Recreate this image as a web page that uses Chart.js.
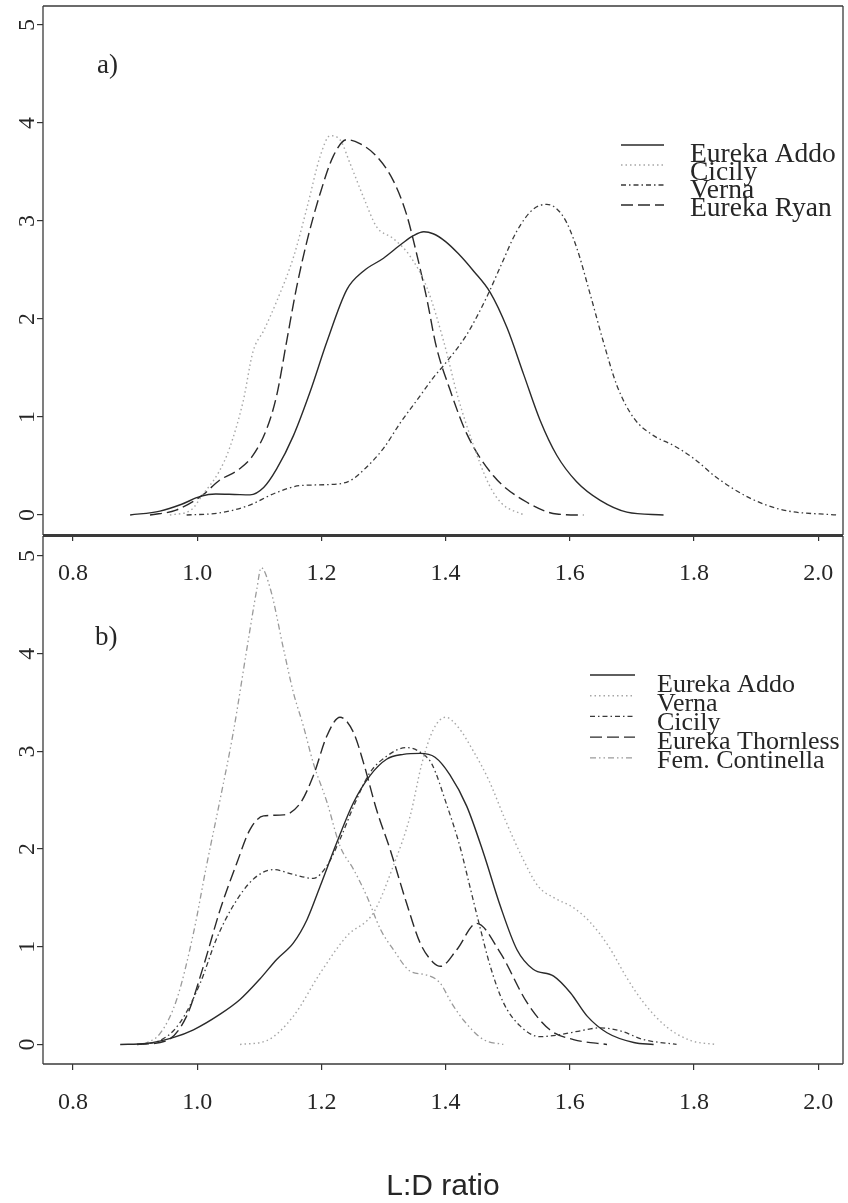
<!DOCTYPE html>
<html>
<head>
<meta charset="utf-8">
<title>L:D ratio density curves</title>
<script src="https://cdn.jsdelivr.net/npm/chart.js@4.4.1/dist/chart.umd.min.js"></script>
<style>
  html, body { margin: 0; padding: 0; background: #fff; }
  #wrap { position: relative; width: 848px; height: 1203px; overflow: hidden; }
  .panel { position: absolute; left: 0; width: 848px; }
  #top { top: 0; height: 600px; }
  #bottom { top: 530px; height: 673px; }
</style>
</head>
<body>
<div id="wrap">
  <div class="panel" id="top"><canvas id="chartA"></canvas></div>
  <div class="panel" id="bottom"><canvas id="chartB"></canvas></div>
</div>
<script>
// axis ticks and titles
const xTicks = [0.8, 1.0, 1.2, 1.4, 1.6, 1.8, 2.0];
const yTicks = [0, 1, 2, 3, 4, 5];
const xTitle = 'L:D ratio';

// panel a) - series labels in legend order
const topLabels = ['Eureka Addo', 'Cicily', 'Verna', 'Eureka Ryan'];

const topAddoX = [0.892, 0.94, 0.975, 1.005, 1.03, 1.06, 1.085, 1.107, 1.128, 1.155, 1.182, 1.209, 1.241, 1.268, 1.3, 1.33, 1.348, 1.365, 1.38, 1.4, 1.42, 1.445, 1.472, 1.499, 1.526, 1.552, 1.579, 1.611, 1.649, 1.692, 1.751];
const topAddoY = [0, 0.04, 0.11, 0.19, 0.215, 0.21, 0.205, 0.28, 0.47, 0.81, 1.26, 1.77, 2.30, 2.49, 2.62, 2.77, 2.85, 2.89, 2.87, 2.79, 2.67, 2.49, 2.27, 1.91, 1.43, 0.97, 0.61, 0.34, 0.15, 0.03, 0];

const topCicilyX = [0.956, 0.99, 1.008, 1.035, 1.052, 1.074, 1.09, 1.107, 1.128, 1.155, 1.177, 1.198, 1.214, 1.23, 1.246, 1.268, 1.289, 1.316, 1.343, 1.37, 1.397, 1.42, 1.445, 1.47, 1.49, 1.526];
const topCicilyY = [0, 0.05, 0.2, 0.44, 0.68, 1.16, 1.67, 1.88, 2.18, 2.63, 3.14, 3.66, 3.87, 3.83, 3.59, 3.24, 2.94, 2.82, 2.64, 2.32, 1.77, 1.2, 0.71, 0.31, 0.12, 0];

const topVernaX = [0.983, 1.035, 1.08, 1.128, 1.166, 1.209, 1.246, 1.273, 1.3, 1.327, 1.356, 1.38, 1.4, 1.434, 1.466, 1.488, 1.515, 1.541, 1.563, 1.59, 1.611, 1.633, 1.654, 1.676, 1.703, 1.735, 1.767, 1.799, 1.837, 1.891, 1.944, 2.03];
const topVernaY = [0, 0.02, 0.09, 0.23, 0.30, 0.31, 0.35, 0.49, 0.68, 0.94, 1.19, 1.40, 1.55, 1.84, 2.22, 2.53, 2.90, 3.12, 3.17, 3.04, 2.73, 2.25, 1.77, 1.32, 0.99, 0.81, 0.71, 0.58, 0.38, 0.17, 0.05, 0];

const topRyanX = [0.924, 0.966, 1.008, 1.035, 1.068, 1.09, 1.112, 1.128, 1.144, 1.16, 1.177, 1.198, 1.219, 1.241, 1.262, 1.289, 1.316, 1.337, 1.354, 1.37, 1.385, 1.407, 1.434, 1.477, 1.531, 1.579, 1.622];
const topRyanY = [0, 0.05, 0.2, 0.35, 0.47, 0.61, 0.88, 1.22, 1.77, 2.32, 2.80, 3.28, 3.66, 3.83, 3.79, 3.66, 3.41, 3.07, 2.65, 2.2, 1.72, 1.28, 0.83, 0.40, 0.13, 0.01, 0];

// panel b)
const bottomLabels = ['Eureka Addo', 'Verna', 'Cicily', 'Eureka Thornless', 'Fem. Continella'];

const botAddoX = [0.876, 0.918, 0.961, 0.994, 1.037, 1.069, 1.101, 1.128, 1.155, 1.177, 1.198, 1.225, 1.252, 1.278, 1.305, 1.332, 1.359, 1.383, 1.407, 1.434, 1.461, 1.488, 1.515, 1.541, 1.574, 1.601, 1.628, 1.66, 1.703, 1.735];
const botAddoY = [0, 0.01, 0.07, 0.15, 0.31, 0.46, 0.67, 0.87, 1.04, 1.28, 1.62, 2.07, 2.48, 2.75, 2.92, 2.97, 2.98, 2.94, 2.76, 2.44, 1.96, 1.42, 0.97, 0.77, 0.70, 0.53, 0.29, 0.12, 0.02, 0];

const botVernaX = [1.069, 1.112, 1.155, 1.198, 1.241, 1.284, 1.316, 1.343, 1.362, 1.38, 1.4, 1.42, 1.445, 1.47, 1.496, 1.523, 1.549, 1.575, 1.606, 1.633, 1.663, 1.692, 1.72, 1.756, 1.795, 1.835];
const botVernaY = [0, 0.04, 0.29, 0.73, 1.11, 1.35, 1.83, 2.34, 2.88, 3.22, 3.35, 3.25, 3.0, 2.7, 2.3, 1.92, 1.62, 1.50, 1.40, 1.25, 1.0, 0.68, 0.42, 0.18, 0.04, 0];

const botCicilyX = [0.903, 0.94, 0.972, 1.005, 1.031, 1.058, 1.09, 1.123, 1.155, 1.187, 1.209, 1.23, 1.252, 1.278, 1.305, 1.337, 1.364, 1.378, 1.402, 1.423, 1.439, 1.455, 1.472, 1.493, 1.52, 1.552, 1.584, 1.617, 1.649, 1.681, 1.719, 1.772];
const botCicilyY = [0, 0.04, 0.22, 0.63, 1.08, 1.42, 1.69, 1.79, 1.74, 1.70, 1.83, 2.10, 2.44, 2.78, 2.95, 3.04, 2.97, 2.87, 2.45, 2.03, 1.62, 1.21, 0.80, 0.43, 0.19, 0.08, 0.10, 0.14, 0.17, 0.14, 0.05, 0];

const botThornX = [0.903, 0.951, 0.983, 1.01, 1.037, 1.064, 1.085, 1.107, 1.139, 1.166, 1.187, 1.209, 1.23, 1.252, 1.268, 1.289, 1.311, 1.337, 1.359, 1.38, 1.392, 1.418, 1.45, 1.488, 1.531, 1.568, 1.606, 1.66];
const botThornY = [0, 0.04, 0.29, 0.80, 1.38, 1.86, 2.20, 2.34, 2.35, 2.47, 2.75, 3.16, 3.35, 3.19, 2.88, 2.40, 1.99, 1.45, 1.04, 0.84, 0.80, 0.97, 1.24, 0.94, 0.43, 0.15, 0.05, 0];

const botContX = [0.913, 0.94, 0.967, 0.994, 1.015, 1.037, 1.058, 1.08, 1.096, 1.103, 1.118, 1.139, 1.155, 1.171, 1.187, 1.209, 1.23, 1.252, 1.273, 1.295, 1.316, 1.343, 1.37, 1.391, 1.41, 1.43, 1.461, 1.493];
const botContY = [0, 0.11, 0.46, 1.14, 1.83, 2.51, 3.19, 4.05, 4.66, 4.88, 4.66, 4.05, 3.60, 3.26, 2.88, 2.48, 2.03, 1.79, 1.52, 1.18, 0.97, 0.75, 0.71, 0.63, 0.42, 0.24, 0.05, 0];

const SERIF = "'Liberation Serif', 'DejaVu Serif', serif";
const SANS = "'Liberation Sans', Arial, sans-serif";
const INK = '#262626';

// R-like line types
const lty = {
  solid:    { color: '#2a2a2a', dash: [], width: 1.4 },
  dotted:   { color: '#a6a6a6', dash: [1.5, 3], width: 1.4 },
  dotdash:  { color: '#3a3a3a', dash: [5, 3, 1.5, 3], width: 1.3 },
  longdash: { color: '#2a2a2a', dash: [12, 5], width: 1.4 },
  twodash:  { color: '#9a9a9a', dash: [6, 3, 1.5, 3, 1.5, 3], width: 1.3 }
};

const line = (label, xs, ys, type) => ({
  label,
  data: xs.map((x, i) => ({x, y: ys[i]})),
  borderColor: lty[type].color,
  borderDash: lty[type].dash,
  borderWidth: lty[type].width,
  pointRadius: 0,
  fill: false,
  cubicInterpolationMode: 'monotone'
});

// frame around the plotting region
const boxPlugin = {
  id: 'box',
  afterDraw(chart, args, o) {
    const {ctx, chartArea: a} = chart;
    ctx.save();
    ctx.strokeStyle = '#3a3a3a';
    const edge = (w, x0, y0, x1, y1) => {
      ctx.lineWidth = w;
      ctx.beginPath(); ctx.moveTo(x0, y0); ctx.lineTo(x1, y1); ctx.stroke();
    };
    edge(o.top, a.left, a.top, a.right, a.top);
    edge(o.right, a.right, a.top, a.right, a.bottom);
    edge(o.bottom, a.left, a.bottom, a.right, a.bottom);
    edge(o.left, a.left, a.top, a.left, a.bottom);
    ctx.restore();
  }
};

// R style legend (line samples + labels) and panel tag
const keyPlugin = {
  id: 'key',
  afterDraw(chart, args, o) {
    const ctx = chart.ctx;
    ctx.save();
    chart.data.datasets.forEach((ds, i) => {
      const ly = o.lineY + i * o.lineStep;
      ctx.strokeStyle = ds.borderColor;
      ctx.lineWidth = ds.borderWidth;
      ctx.setLineDash(ds.borderDash);
      ctx.beginPath(); ctx.moveTo(o.x0, ly); ctx.lineTo(o.x1, ly); ctx.stroke();
    });
    ctx.setLineDash([]);
    ctx.fillStyle = INK;
    ctx.textBaseline = 'alphabetic';
    ctx.textAlign = 'left';
    ctx.font = o.size + 'px ' + SERIF;
    chart.data.datasets.forEach((ds, i) => {
      ctx.fillText(ds.label, o.textX, o.textY + i * o.textStep);
    });
    ctx.font = o.tagSize + 'px ' + SERIF;
    ctx.fillText(o.tag, o.tagX, o.tagY);
    ctx.restore();
  }
};

function makeOptions(yMin, yMax, xAxisHeight, withTitle, pad, box, key) {
  const tickFont = {family: SERIF, size: 24};
  return {
    responsive: true,
    maintainAspectRatio: false,
    animation: false,
    devicePixelRatio: 1,
    layout: {padding: pad},
    plugins: {legend: {display: false}, tooltip: {enabled: false}, box, key},
    scales: {
      x: {
        type: 'linear',
        min: 0.7517,
        max: 2.040,
        afterBuildTicks: s => { s.ticks = xTicks.map(v => ({value: v})); },
        afterFit: s => { s.height = xAxisHeight; s.paddingLeft = 0; s.paddingRight = 0; },
        border: {display: false},
        grid: {drawOnChartArea: false, drawTicks: true, tickLength: 6, tickColor: '#333', lineWidth: 1.2},
        ticks: {font: tickFont, color: INK, padding: 18, autoSkip: false, maxRotation: 0, minRotation: 0,
          callback: v => v.toFixed(1)},
        title: {display: withTitle, text: xTitle, color: INK,
          font: {family: SANS, size: 30, lineHeight: 1}, padding: {top: 0, bottom: 1}}
      },
      y: {
        type: 'linear',
        min: yMin,
        max: yMax,
        afterBuildTicks: s => { s.ticks = yTicks.map(v => ({value: v})); },
        afterFit: s => { s.width = 43; s.paddingTop = 0; s.paddingBottom = 0; },
        border: {display: false},
        grid: {drawOnChartArea: false, drawTicks: true, tickLength: 6, tickColor: '#333', lineWidth: 1.2},
        ticks: {font: tickFont, color: INK, padding: 3, crossAlign: 'center', minRotation: 90, maxRotation: 90,
          callback: v => String(v)}
      }
    }
  };
}

new Chart(document.getElementById('chartA'), {
  type: 'line',
  data: {
    datasets: [
      line(topLabels[0], topAddoX, topAddoY, 'solid'),
      line(topLabels[1], topCicilyX, topCicilyY, 'dotted'),
      line(topLabels[2], topVernaX, topVernaY, 'dotdash'),
      line(topLabels[3], topRyanX, topRyanY, 'longdash')
    ]
  },
  options: makeOptions(-0.204, 5.194, 65, false,
    {top: 6, right: 5, left: 0, bottom: 0},
    {top: 1.3, right: 1.3, bottom: 2.2, left: 1.3},
    {x0: 621, x1: 664, lineY: 145, lineStep: 20, textX: 690, textY: 162, textStep: 18, size: 27.5,
     tag: 'a)', tagX: 97, tagY: 73, tagSize: 27}),
  plugins: [boxPlugin, keyPlugin]
});

new Chart(document.getElementById('chartB'), {
  type: 'line',
  data: {
    datasets: [
      line(bottomLabels[0], botAddoX, botAddoY, 'solid'),
      line(bottomLabels[1], botVernaX, botVernaY, 'dotted'),
      line(bottomLabels[2], botCicilyX, botCicilyY, 'dotdash'),
      line(bottomLabels[3], botThornX, botThornY, 'longdash'),
      line(bottomLabels[4], botContX, botContY, 'twodash')
    ]
  },
  options: makeOptions(-0.2, 5.205, 139, true,
    {top: 6, right: 5, left: 0, bottom: 0},
    {top: 2.2, right: 1.3, bottom: 1.3, left: 1.3},
    {x0: 590, x1: 635, lineY: 145, lineStep: 20.7, textX: 657, textY: 162, textStep: 19, size: 26,
     tag: 'b)', tagX: 95, tagY: 115, tagSize: 27}),
  plugins: [boxPlugin, keyPlugin]
});
</script>
</body>
</html>
